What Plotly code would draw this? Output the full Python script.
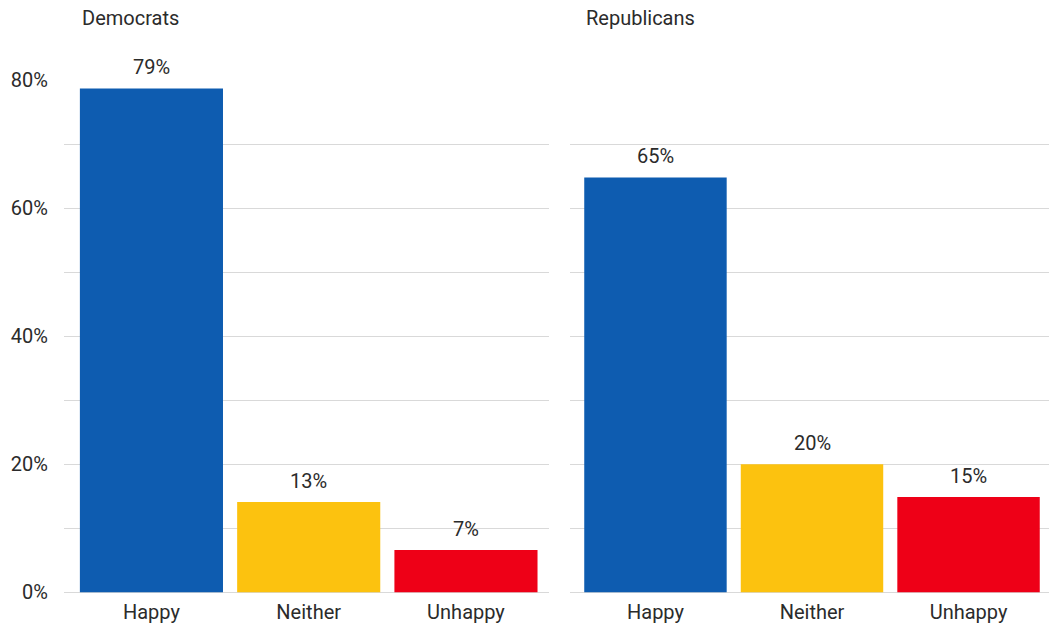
import plotly.graph_objects as go

categories = ["Happy", "Neither", "Unhappy"]
dem_values = [78.7, 14.1, 6.6]
dem_labels = ["79%", "13%", "7%"]
rep_values = [64.8, 20.0, 14.9]
rep_labels = ["65%", "20%", "15%"]
panel_titles = ["Democrats", "Republicans"]
bar_colors = ["#0E5CB0", "#FCC20F", "#EE0017"]
y_ticks = [0, 10, 20, 30, 40, 50, 60, 70, 80]
y_ticktext = ["0%", "", "20%", "", "40%", "", "60%", "", "80%"]

W, H = 1049, 628
# effective drawing frame measured in the renderer
FT, FH = 12, 603.6


def py(screen_y):
    return 1 - (screen_y - FT) / FH


FONT = "Roboto"
FS = 20
TXT = "#2b2b2b"
GRID = "#d9d9d9"

fig = go.Figure()
fig.add_trace(go.Bar(x=categories, y=dem_values, marker=dict(color=bar_colors, line=dict(width=0)),
                     xaxis="x", yaxis="y", width=0.91, hoverinfo="skip"))
fig.add_trace(go.Bar(x=categories, y=rep_values, marker=dict(color=bar_colors, line=dict(width=0)),
                     xaxis="x2", yaxis="y2", width=0.91, hoverinfo="skip"))

ydom = [py(592), py(80)]
axis_y_common = dict(range=[0, 80], tickvals=y_ticks, showgrid=True, gridcolor=GRID, gridwidth=1,
                     zeroline=True, zerolinecolor=GRID, zerolinewidth=1, showline=False,
                     ticks="", fixedrange=True, domain=ydom)
axis_x_common = dict(showgrid=False, zeroline=False, showline=False, ticks="", ticklabelstandoff=6,
                     tickfont=dict(family=FONT, size=FS, color=TXT), fixedrange=True)

fig.update_layout(
    width=W, height=H,
    margin=dict(l=0, r=0, t=0, b=0),
    paper_bgcolor="white", plot_bgcolor="white",
    showlegend=False,
    font=dict(family=FONT, color=TXT),
    xaxis=dict(domain=[64 / W, 549 / W], range=[-0.556, 2.528], anchor="y", **axis_x_common),
    xaxis2=dict(domain=[570 / W, 1.0], range=[-0.546, 2.514], anchor="y2", **axis_x_common),
    yaxis=dict(anchor="x", ticktext=y_ticktext, showticklabels=True, ticklabelstandoff=15,
               tickfont=dict(family=FONT, size=FS, color=TXT), **axis_y_common),
    yaxis2=dict(anchor="x2", ticktext=y_ticktext, showticklabels=False, **axis_y_common),
    bargap=0.09,
)

annotations = []
for xref, yref, vals, labs in [("x", "y", dem_values, dem_labels), ("x2", "y2", rep_values, rep_labels)]:
    for c, v, t in zip(categories, vals, labs):
        annotations.append(dict(x=c, y=v, xref=xref, yref=yref, text=t, showarrow=False,
                                yanchor="bottom", xanchor="center", yshift=7,
                                font=dict(family=FONT, size=FS, color=TXT)))
for xpx, title in zip([80, 584], panel_titles):
    annotations.append(dict(x=xpx / W, y=py(18), xref="paper", yref="paper", text=title,
                            showarrow=False, xanchor="left", yanchor="middle",
                            font=dict(family=FONT, size=FS, color=TXT)))
fig.update_layout(annotations=annotations)

fig.write_html("out.html", config={"displayModeBar": False},
               post_script="document.body.style.margin='0';document.documentElement.style.overflow='hidden';")
